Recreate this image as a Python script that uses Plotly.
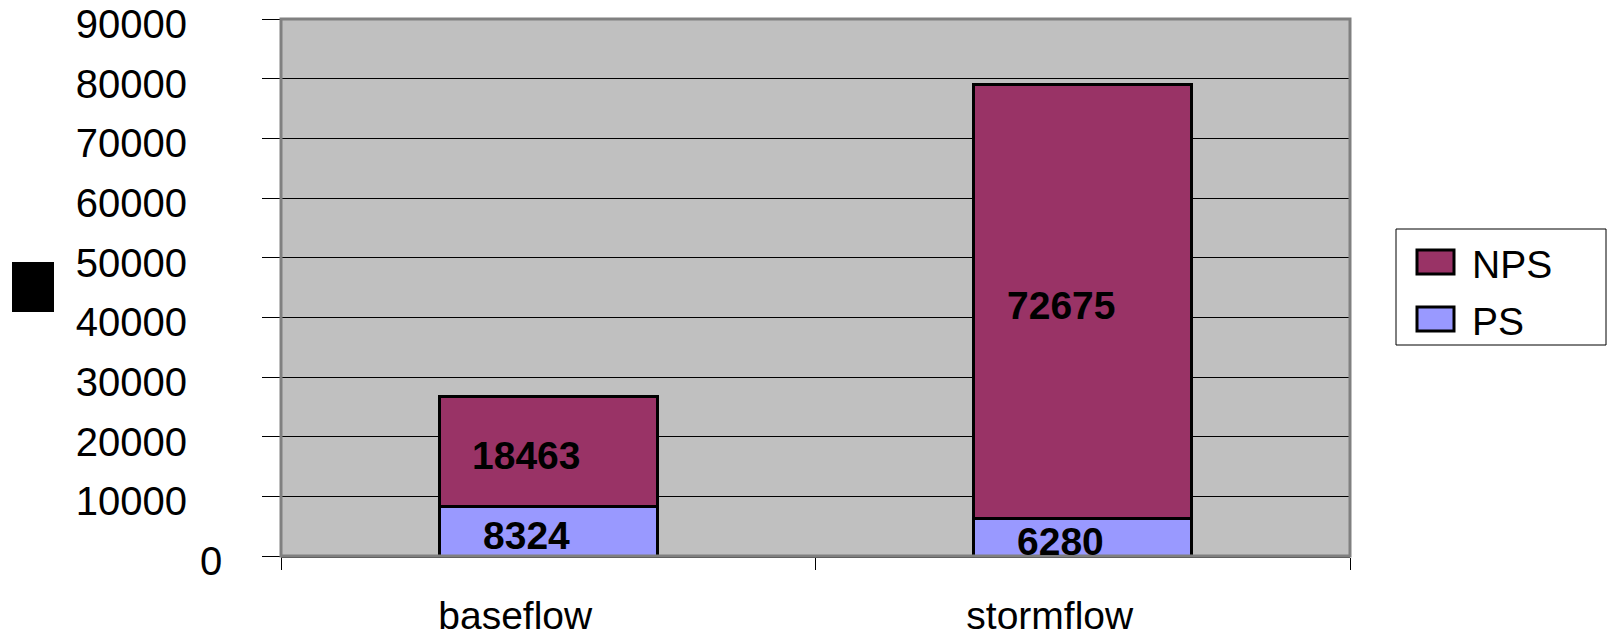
import plotly.graph_objects as go

categories = ["baseflow", "stormflow"]
ps_values = [8324, 6280]
nps_values = [18463, 72675]
series_names = ["NPS", "PS"]
y_ticks = [0, 10000, 20000, 30000, 40000, 50000, 60000, 70000, 80000, 90000]

NPS_COLOR = "#993366"
PS_COLOR = "#9999FF"
FONT = "Liberation Sans, Arial, sans-serif"

W, H = 1608, 638
L, R, T, B = 281, 1350, 19, 556  # plot area in pixels


def px(x):
    return (x - L) / (R - L)


def py(y):
    return (B - y) / (B - T)


fig = go.Figure()
fig.add_trace(go.Bar(x=categories, y=ps_values, name="PS",
                     marker=dict(color=PS_COLOR, line=dict(color="black", width=3))))
fig.add_trace(go.Bar(x=categories, y=nps_values, name="NPS",
                     marker=dict(color=NPS_COLOR, line=dict(color="black", width=3))))

annotations = []
for c, p, n in zip(categories, ps_values, nps_values):
    for val, mid in ((p, p / 2), (n, p + n / 2)):
        annotations.append(dict(x=c, y=mid, xref="x", yref="y", text=f"<b>{val}</b>",
                                showarrow=False, xshift=-22, yshift=-4,
                                font=dict(family=FONT, size=39, color="black")))

# the "0" tick label sits further right than the others in the reference
annotations.append(dict(x=px(224), y=y_ticks[0], xref="paper", yref="y", text=str(y_ticks[0]),
                        showarrow=False, xanchor="right", yanchor="middle", yshift=-5,
                        font=dict(family=FONT, size=40, color="black")))

# legend (drawn manually to match large swatches)
shapes = [
    dict(type="rect", xref="paper", yref="paper", x0=0, x1=1, y0=0, y1=1,
         line=dict(color="#808080", width=3), layer="above"),
    dict(type="rect", xref="paper", yref="paper", x0=px(1396), x1=px(1606),
         y0=py(345), y1=py(229), line=dict(color="black", width=1), fillcolor="white"),
    # y-axis title glyph (renders as a black block)
    dict(type="rect", xref="paper", yref="paper", x0=px(12), x1=px(54),
         y0=py(312), y1=py(262), line=dict(width=0), fillcolor="black"),
]
legend_rows = [(series_names[0], NPS_COLOR, 262), (series_names[1], PS_COLOR, 319)]
for name, col, cy in legend_rows:
    shapes.append(dict(type="rect", xref="paper", yref="paper", x0=px(1417), x1=px(1454),
                       y0=py(cy + 12), y1=py(cy - 12), fillcolor=col,
                       line=dict(color="black", width=3)))
    annotations.append(dict(x=px(1470), y=py(cy + 2), xref="paper", yref="paper", text=name,
                            showarrow=False, xanchor="left", yanchor="middle",
                            font=dict(family=FONT, size=39, color="black")))

fig.update_layout(
    width=W, height=H, autosize=False,
    margin=dict(l=L, r=W - R, t=T, b=H - B, pad=0),
    barmode="stack", bargap=0.592,
    showlegend=False,
    paper_bgcolor="white", plot_bgcolor="#C0C0C0",
    font=dict(family=FONT, size=39, color="black"),
    annotations=annotations, shapes=shapes,
)
fig.update_yaxes(range=[0, 90000], tickvals=y_ticks,
                 ticktext=[str(v) if v else "" for v in y_ticks],
                 showgrid=True, gridcolor="black", gridwidth=1, automargin=False,
                 ticks="outside", ticklen=18, tickcolor="black", tickwidth=1,
                 ticklabelstandoff=67, ticklabelshift=5, ticklabeloverflow="allow",
                 showline=False, zeroline=False,
                 tickfont=dict(family=FONT, size=40, color="black"))
fig.update_xaxes(showgrid=False, ticks="outside", tickson="boundaries", ticklen=12,
                 automargin=False, ticklabeloverflow="allow",
                 tickcolor="black", tickwidth=1, showline=True, linecolor="#404040", linewidth=2,
                 ticklabelshift=-33, ticklabelstandoff=24,
                 tickfont=dict(family=FONT, size=39, color="black"))

fig.write_html("out.html", config={"displayModeBar": False},
               post_script="document.body.style.margin='0';document.body.style.overflow='hidden';")
